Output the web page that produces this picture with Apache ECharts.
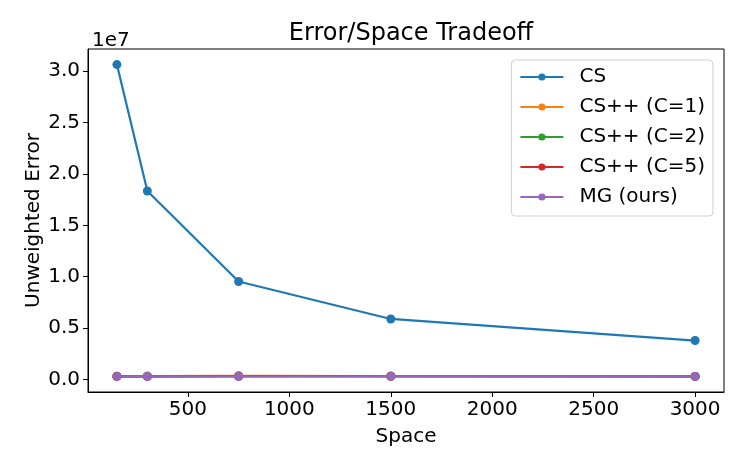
<!DOCTYPE html>
<html lang="en">
<head>
  <meta charset="utf-8">
  <title>Error/Space Tradeoff</title>
  <style>
    html, body { margin: 0; padding: 0; background: #fff; }
    #chart { width: 747px; height: 467px; }
  </style>
</head>
<body>
  <div id="chart"></div>
  <script src="https://cdn.jsdelivr.net/npm/echarts@6/dist/echarts.min.js"></script>
  <script>
    // data
    var space = [150, 300, 750, 1500, 3000];
    var cs = [30650000, 18350000, 9540000, 5890000, 3790000];
    var csC1 = [310000, 320000, 360000, 330000, 300000];
    var csC2 = [305000, 310000, 330000, 320000, 300000];
    var csC5 = [300000, 305000, 320000, 315000, 300000];
    var mg = [300000, 300000, 290000, 300000, 300000];
    var names = ['CS', 'CS++ (C=1)', 'CS++ (C=2)', 'CS++ (C=5)', 'MG (ours)'];
    var colors = ['#1f77b4', '#ff7f0e', '#2ca02c', '#d62728', '#9467bd'];
    var xTicks = [500, 1000, 1500, 2000, 2500, 3000];
    var yTicks = [0, 5000000, 10000000, 15000000, 20000000, 25000000, 30000000];

    var font = 'DejaVu Sans';
    var allSeries = [cs, csC1, csC2, csC5, mg];

    var series = allSeries.map(function (vals, i) {
      return {
        name: names[i],
        type: 'line',
        data: space.map(function (x, j) { return [x, vals[j]]; }),
        symbol: 'circle',
        symbolSize: 9,
        color: colors[i],
        lineStyle: { width: 2.2 },
        emphasis: { disabled: true },
        animation: false
      };
    });

    var chart = echarts.init(document.getElementById('chart'));
    chart.setOption({
      backgroundColor: '#fff',
      textStyle: { fontFamily: font },
      title: [
        {
          text: 'Error/Space Tradeoff',
          left: 406, top: 17, textAlign: 'center',
          textStyle: { fontFamily: font, fontSize: 24, fontWeight: 'normal', color: '#000' }
        },
        {
          text: '1e7',
          left: 87, top: 26,
          textStyle: { fontFamily: font, fontSize: 20, fontWeight: 'normal', color: '#000' }
        }
      ],
      legend: {
        orient: 'vertical',
        right: 34, top: 60,
        data: names,
        itemWidth: 43, itemHeight: 9,
        itemGap: 10,
        padding: [7, 8, 9, 8],
        backgroundColor: '#fff',
        borderColor: '#d0d0d0', borderWidth: 1, borderRadius: 4,
        textStyle: { fontFamily: font, fontSize: 20, color: '#000', padding: [0, 0, 0, 11] }
      },
      grid: {
        left: 88, right: 23, top: 49, bottom: 75,
        show: true, borderColor: '#000', borderWidth: 1, backgroundColor: 'transparent'
      },
      xAxis: {
        type: 'value',
        min: 7.5, max: 3142.5,
        name: 'Space', nameLocation: 'middle', nameGap: 35, nameMoveOverlap: false,
        nameTextStyle: { fontFamily: font, fontSize: 20, color: '#000' },
        axisLine: { show: true, onZero: false, lineStyle: { color: '#000', width: 1 } },
        axisTick: { show: true, length: 5, customValues: xTicks, lineStyle: { color: '#000' } },
        axisLabel: {
          customValues: xTicks, fontFamily: font, fontSize: 20, color: '#000', margin: 8,
          formatter: function (v) { return String(v); }
        },
        splitLine: { show: false }
      },
      yAxis: {
        type: 'value',
        min: -1220000, max: 32170000,
        name: 'Unweighted Error', nameLocation: 'middle', nameGap: 44, nameMoveOverlap: false,
        nameTextStyle: { fontFamily: font, fontSize: 20, color: '#000' },
        axisLine: { show: true, onZero: false, lineStyle: { color: '#000', width: 1 } },
        axisTick: { show: true, length: 5, customValues: yTicks, lineStyle: { color: '#000' } },
        axisLabel: {
          customValues: yTicks, fontFamily: font, fontSize: 20, color: '#000', margin: 8,
          formatter: function (v) { return (v / 1e7).toFixed(1); }
        },
        splitLine: { show: false }
      },
      series: series
    });
  </script>
</body>
</html>
